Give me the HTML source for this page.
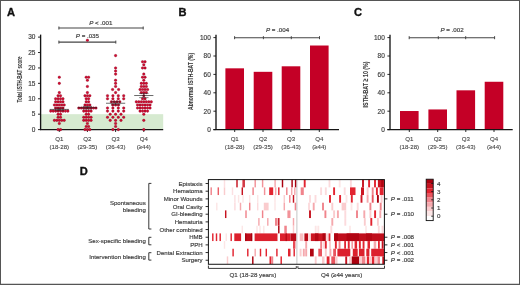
<!DOCTYPE html>
<html lang="en">
<head>
<meta charset="utf-8">
<title>ISTH-BAT scores by age quartile</title>
<style>
html,body{margin:0;padding:0;background:#fff;}
body{width:520px;height:285px;overflow:hidden;}
svg{display:block;will-change:transform;font-family:"Liberation Sans",sans-serif;}
text{stroke:#3c3c3c;stroke-width:0.16px;}
</style>
</head>
<body>
<svg width="520" height="285" viewBox="0 0 520 285">
<rect x="0" y="0" width="520" height="285" fill="#fff"/>
<text x="7.00" y="16.20" font-size="11.1" text-anchor="start" fill="#111" font-weight="bold" style="stroke:#111;stroke-width:0.35px">A</text>
<text x="178.60" y="16.20" font-size="11.1" text-anchor="start" fill="#111" font-weight="bold" style="stroke:#111;stroke-width:0.35px">B</text>
<text x="354.00" y="16.20" font-size="11.1" text-anchor="start" fill="#111" font-weight="bold" style="stroke:#111;stroke-width:0.35px">C</text>
<text x="79.70" y="175.20" font-size="11.1" text-anchor="start" fill="#111" font-weight="bold" style="stroke:#111;stroke-width:0.35px">D</text>
<rect x="40.60" y="114.18" width="122.60" height="15.42" fill="#d6ead0"/>
<line x1="40.60" y1="34.60" x2="40.60" y2="130.10" stroke="#151515" stroke-width="1.35"/>
<line x1="40.10" y1="129.60" x2="163.20" y2="129.60" stroke="#151515" stroke-width="1.25"/>
<line x1="38.00" y1="129.60" x2="40.60" y2="129.60" stroke="#151515" stroke-width="0.9"/>
<text x="35.40" y="131.90" font-size="6.5" text-anchor="end" fill="#3c3c3c">0</text>
<line x1="38.00" y1="114.18" x2="40.60" y2="114.18" stroke="#151515" stroke-width="0.9"/>
<text x="35.40" y="116.48" font-size="6.5" text-anchor="end" fill="#3c3c3c">5</text>
<line x1="38.00" y1="98.77" x2="40.60" y2="98.77" stroke="#151515" stroke-width="0.9"/>
<text x="35.40" y="101.07" font-size="6.5" text-anchor="end" fill="#3c3c3c">10</text>
<line x1="38.00" y1="83.35" x2="40.60" y2="83.35" stroke="#151515" stroke-width="0.9"/>
<text x="35.40" y="85.65" font-size="6.5" text-anchor="end" fill="#3c3c3c">15</text>
<line x1="38.00" y1="67.94" x2="40.60" y2="67.94" stroke="#151515" stroke-width="0.9"/>
<text x="35.40" y="70.24" font-size="6.5" text-anchor="end" fill="#3c3c3c">20</text>
<line x1="38.00" y1="52.52" x2="40.60" y2="52.52" stroke="#151515" stroke-width="0.9"/>
<text x="35.40" y="54.82" font-size="6.5" text-anchor="end" fill="#3c3c3c">25</text>
<line x1="38.00" y1="37.11" x2="40.60" y2="37.11" stroke="#151515" stroke-width="0.9"/>
<text x="35.40" y="39.41" font-size="6.5" text-anchor="end" fill="#3c3c3c">30</text>
<text transform="translate(22.0,79.4) rotate(-90)" font-size="8" font-weight="bold" text-anchor="middle" fill="#3c3c3c" style="stroke-width:0.1px" textLength="46" lengthAdjust="spacingAndGlyphs">Total ISTH-BAT score</text>
<line x1="59.30" y1="129.60" x2="59.30" y2="132.00" stroke="#151515" stroke-width="0.9"/>
<line x1="87.40" y1="129.60" x2="87.40" y2="132.00" stroke="#151515" stroke-width="0.9"/>
<line x1="115.60" y1="129.60" x2="115.60" y2="132.00" stroke="#151515" stroke-width="0.9"/>
<line x1="143.80" y1="129.60" x2="143.80" y2="132.00" stroke="#151515" stroke-width="0.9"/>
<g fill="#d00c30" stroke="#80001c" stroke-width="0.32">
<circle cx="58.07" cy="129.60" r="1.28"/>
<circle cx="60.52" cy="129.60" r="1.28"/>
<circle cx="59.30" cy="123.43" r="1.28"/>
<circle cx="54.40" cy="120.35" r="1.28"/>
<circle cx="56.85" cy="120.35" r="1.28"/>
<circle cx="59.30" cy="120.35" r="1.28"/>
<circle cx="61.75" cy="120.35" r="1.28"/>
<circle cx="64.20" cy="120.35" r="1.28"/>
<circle cx="58.07" cy="117.27" r="1.28"/>
<circle cx="60.52" cy="117.27" r="1.28"/>
<circle cx="58.07" cy="114.18" r="1.28"/>
<circle cx="60.52" cy="114.18" r="1.28"/>
<circle cx="50.72" cy="111.10" r="1.28"/>
<circle cx="53.17" cy="111.10" r="1.28"/>
<circle cx="55.62" cy="111.10" r="1.28"/>
<circle cx="58.07" cy="111.10" r="1.28"/>
<circle cx="60.52" cy="111.10" r="1.28"/>
<circle cx="62.97" cy="111.10" r="1.28"/>
<circle cx="65.42" cy="111.10" r="1.28"/>
<circle cx="67.88" cy="111.10" r="1.28"/>
<circle cx="55.62" cy="108.02" r="1.28"/>
<circle cx="58.07" cy="108.02" r="1.28"/>
<circle cx="60.52" cy="108.02" r="1.28"/>
<circle cx="62.97" cy="108.02" r="1.28"/>
<circle cx="54.40" cy="104.94" r="1.28"/>
<circle cx="56.85" cy="104.94" r="1.28"/>
<circle cx="59.30" cy="104.94" r="1.28"/>
<circle cx="61.75" cy="104.94" r="1.28"/>
<circle cx="64.20" cy="104.94" r="1.28"/>
<circle cx="55.62" cy="101.85" r="1.28"/>
<circle cx="58.07" cy="101.85" r="1.28"/>
<circle cx="60.52" cy="101.85" r="1.28"/>
<circle cx="62.97" cy="101.85" r="1.28"/>
<circle cx="55.62" cy="98.77" r="1.28"/>
<circle cx="58.07" cy="98.77" r="1.28"/>
<circle cx="60.52" cy="98.77" r="1.28"/>
<circle cx="62.97" cy="98.77" r="1.28"/>
<circle cx="58.07" cy="95.69" r="1.28"/>
<circle cx="60.52" cy="95.69" r="1.28"/>
<circle cx="59.30" cy="92.60" r="1.28"/>
<circle cx="59.30" cy="83.35" r="1.28"/>
<circle cx="59.30" cy="77.19" r="1.28"/>
<circle cx="84.95" cy="129.60" r="1.28"/>
<circle cx="87.40" cy="129.60" r="1.28"/>
<circle cx="89.85" cy="129.60" r="1.28"/>
<circle cx="86.18" cy="126.52" r="1.28"/>
<circle cx="88.62" cy="126.52" r="1.28"/>
<circle cx="87.40" cy="123.43" r="1.28"/>
<circle cx="83.73" cy="120.35" r="1.28"/>
<circle cx="86.18" cy="120.35" r="1.28"/>
<circle cx="88.62" cy="120.35" r="1.28"/>
<circle cx="91.08" cy="120.35" r="1.28"/>
<circle cx="83.73" cy="117.27" r="1.28"/>
<circle cx="86.18" cy="117.27" r="1.28"/>
<circle cx="88.62" cy="117.27" r="1.28"/>
<circle cx="91.08" cy="117.27" r="1.28"/>
<circle cx="86.18" cy="114.18" r="1.28"/>
<circle cx="88.62" cy="114.18" r="1.28"/>
<circle cx="83.73" cy="111.10" r="1.28"/>
<circle cx="86.18" cy="111.10" r="1.28"/>
<circle cx="88.62" cy="111.10" r="1.28"/>
<circle cx="91.08" cy="111.10" r="1.28"/>
<circle cx="78.83" cy="108.02" r="1.28"/>
<circle cx="81.28" cy="108.02" r="1.28"/>
<circle cx="83.73" cy="108.02" r="1.28"/>
<circle cx="86.18" cy="108.02" r="1.28"/>
<circle cx="88.62" cy="108.02" r="1.28"/>
<circle cx="91.08" cy="108.02" r="1.28"/>
<circle cx="93.53" cy="108.02" r="1.28"/>
<circle cx="95.98" cy="108.02" r="1.28"/>
<circle cx="84.95" cy="104.94" r="1.28"/>
<circle cx="87.40" cy="104.94" r="1.28"/>
<circle cx="89.85" cy="104.94" r="1.28"/>
<circle cx="86.18" cy="101.85" r="1.28"/>
<circle cx="88.62" cy="101.85" r="1.28"/>
<circle cx="86.18" cy="98.77" r="1.28"/>
<circle cx="88.62" cy="98.77" r="1.28"/>
<circle cx="84.95" cy="95.69" r="1.28"/>
<circle cx="87.40" cy="95.69" r="1.28"/>
<circle cx="89.85" cy="95.69" r="1.28"/>
<circle cx="87.40" cy="92.60" r="1.28"/>
<circle cx="87.40" cy="86.44" r="1.28"/>
<circle cx="87.40" cy="80.27" r="1.28"/>
<circle cx="86.18" cy="77.19" r="1.28"/>
<circle cx="88.62" cy="77.19" r="1.28"/>
<circle cx="112.90" cy="129.60" r="1.28"/>
<circle cx="118.30" cy="129.60" r="1.28"/>
<circle cx="115.60" cy="126.52" r="1.28"/>
<circle cx="115.60" cy="123.43" r="1.28"/>
<circle cx="110.20" cy="120.35" r="1.28"/>
<circle cx="115.60" cy="120.35" r="1.28"/>
<circle cx="121.00" cy="120.35" r="1.28"/>
<circle cx="107.50" cy="117.27" r="1.28"/>
<circle cx="112.90" cy="117.27" r="1.28"/>
<circle cx="118.30" cy="117.27" r="1.28"/>
<circle cx="123.70" cy="117.27" r="1.28"/>
<circle cx="110.20" cy="114.18" r="1.28"/>
<circle cx="115.60" cy="114.18" r="1.28"/>
<circle cx="121.00" cy="114.18" r="1.28"/>
<circle cx="107.50" cy="111.10" r="1.28"/>
<circle cx="112.90" cy="111.10" r="1.28"/>
<circle cx="118.30" cy="111.10" r="1.28"/>
<circle cx="123.70" cy="111.10" r="1.28"/>
<circle cx="107.50" cy="108.02" r="1.28"/>
<circle cx="112.90" cy="108.02" r="1.28"/>
<circle cx="118.30" cy="108.02" r="1.28"/>
<circle cx="123.70" cy="108.02" r="1.28"/>
<circle cx="112.80" cy="104.94" r="1.28"/>
<circle cx="115.60" cy="104.94" r="1.28"/>
<circle cx="118.40" cy="104.94" r="1.28"/>
<circle cx="111.40" cy="101.85" r="1.28"/>
<circle cx="114.20" cy="101.85" r="1.28"/>
<circle cx="117.00" cy="101.85" r="1.28"/>
<circle cx="119.80" cy="101.85" r="1.28"/>
<circle cx="107.50" cy="98.77" r="1.28"/>
<circle cx="112.90" cy="98.77" r="1.28"/>
<circle cx="118.30" cy="98.77" r="1.28"/>
<circle cx="123.70" cy="98.77" r="1.28"/>
<circle cx="107.50" cy="95.69" r="1.28"/>
<circle cx="112.90" cy="95.69" r="1.28"/>
<circle cx="118.30" cy="95.69" r="1.28"/>
<circle cx="123.70" cy="95.69" r="1.28"/>
<circle cx="115.60" cy="92.60" r="1.28"/>
<circle cx="112.60" cy="89.52" r="1.28"/>
<circle cx="118.60" cy="89.52" r="1.28"/>
<circle cx="115.60" cy="86.44" r="1.28"/>
<circle cx="115.60" cy="83.35" r="1.28"/>
<circle cx="115.60" cy="80.27" r="1.28"/>
<circle cx="115.60" cy="74.11" r="1.28"/>
<circle cx="115.60" cy="71.02" r="1.28"/>
<circle cx="115.60" cy="67.94" r="1.28"/>
<circle cx="115.60" cy="55.61" r="1.28"/>
<circle cx="143.80" cy="129.60" r="1.28"/>
<circle cx="143.80" cy="120.35" r="1.28"/>
<circle cx="143.80" cy="114.18" r="1.28"/>
<circle cx="140.05" cy="111.10" r="1.28"/>
<circle cx="142.55" cy="111.10" r="1.28"/>
<circle cx="145.05" cy="111.10" r="1.28"/>
<circle cx="147.55" cy="111.10" r="1.28"/>
<circle cx="137.55" cy="108.02" r="1.28"/>
<circle cx="140.05" cy="108.02" r="1.28"/>
<circle cx="142.55" cy="108.02" r="1.28"/>
<circle cx="145.05" cy="108.02" r="1.28"/>
<circle cx="147.55" cy="108.02" r="1.28"/>
<circle cx="150.05" cy="108.02" r="1.28"/>
<circle cx="137.55" cy="104.94" r="1.28"/>
<circle cx="140.05" cy="104.94" r="1.28"/>
<circle cx="142.55" cy="104.94" r="1.28"/>
<circle cx="145.05" cy="104.94" r="1.28"/>
<circle cx="147.55" cy="104.94" r="1.28"/>
<circle cx="150.05" cy="104.94" r="1.28"/>
<circle cx="136.30" cy="101.85" r="1.28"/>
<circle cx="138.80" cy="101.85" r="1.28"/>
<circle cx="141.30" cy="101.85" r="1.28"/>
<circle cx="143.80" cy="101.85" r="1.28"/>
<circle cx="146.30" cy="101.85" r="1.28"/>
<circle cx="148.80" cy="101.85" r="1.28"/>
<circle cx="151.30" cy="101.85" r="1.28"/>
<circle cx="142.55" cy="98.77" r="1.28"/>
<circle cx="145.05" cy="98.77" r="1.28"/>
<circle cx="143.80" cy="95.69" r="1.28"/>
<circle cx="141.30" cy="92.60" r="1.28"/>
<circle cx="143.80" cy="92.60" r="1.28"/>
<circle cx="146.30" cy="92.60" r="1.28"/>
<circle cx="140.05" cy="89.52" r="1.28"/>
<circle cx="142.55" cy="89.52" r="1.28"/>
<circle cx="145.05" cy="89.52" r="1.28"/>
<circle cx="147.55" cy="89.52" r="1.28"/>
<circle cx="141.30" cy="86.44" r="1.28"/>
<circle cx="143.80" cy="86.44" r="1.28"/>
<circle cx="146.30" cy="86.44" r="1.28"/>
<circle cx="141.30" cy="83.35" r="1.28"/>
<circle cx="143.80" cy="83.35" r="1.28"/>
<circle cx="146.30" cy="83.35" r="1.28"/>
<circle cx="143.80" cy="80.27" r="1.28"/>
<circle cx="142.55" cy="77.19" r="1.28"/>
<circle cx="145.05" cy="77.19" r="1.28"/>
<circle cx="143.80" cy="74.11" r="1.28"/>
<circle cx="142.55" cy="67.94" r="1.28"/>
<circle cx="145.05" cy="67.94" r="1.28"/>
<circle cx="143.80" cy="64.86" r="1.28"/>
<circle cx="142.55" cy="61.77" r="1.28"/>
<circle cx="145.05" cy="61.77" r="1.28"/>
</g>
<line x1="49.70" y1="109.41" x2="68.90" y2="109.41" stroke="#1a1a1a" stroke-width="0.65"/>
<line x1="59.30" y1="108.11" x2="59.30" y2="110.71" stroke="#1a1a1a" stroke-width="0.5"/>
<line x1="54.60" y1="108.11" x2="64.00" y2="108.11" stroke="#1a1a1a" stroke-width="0.5"/>
<line x1="54.60" y1="110.71" x2="64.00" y2="110.71" stroke="#1a1a1a" stroke-width="0.5"/>
<line x1="77.80" y1="107.71" x2="97.00" y2="107.71" stroke="#1a1a1a" stroke-width="0.65"/>
<line x1="87.40" y1="106.41" x2="87.40" y2="109.01" stroke="#1a1a1a" stroke-width="0.5"/>
<line x1="82.70" y1="106.41" x2="92.10" y2="106.41" stroke="#1a1a1a" stroke-width="0.5"/>
<line x1="82.70" y1="109.01" x2="92.10" y2="109.01" stroke="#1a1a1a" stroke-width="0.5"/>
<line x1="106.00" y1="103.24" x2="125.20" y2="103.24" stroke="#1a1a1a" stroke-width="0.65"/>
<line x1="115.60" y1="101.69" x2="115.60" y2="104.79" stroke="#1a1a1a" stroke-width="0.5"/>
<line x1="110.90" y1="101.69" x2="120.30" y2="101.69" stroke="#1a1a1a" stroke-width="0.5"/>
<line x1="110.90" y1="104.79" x2="120.30" y2="104.79" stroke="#1a1a1a" stroke-width="0.5"/>
<line x1="134.20" y1="95.53" x2="153.40" y2="95.53" stroke="#1a1a1a" stroke-width="0.65"/>
<line x1="143.80" y1="93.43" x2="143.80" y2="97.63" stroke="#1a1a1a" stroke-width="0.5"/>
<line x1="139.10" y1="93.43" x2="148.50" y2="93.43" stroke="#1a1a1a" stroke-width="0.5"/>
<line x1="139.10" y1="97.63" x2="148.50" y2="97.63" stroke="#1a1a1a" stroke-width="0.5"/>
<text x="59.30" y="141.20" font-size="6.1" text-anchor="middle" fill="#444" style="stroke:#444;stroke-width:0.1px">Q1</text>
<text x="59.30" y="148.80" font-size="6.1" text-anchor="middle" fill="#444" style="stroke:#444;stroke-width:0.1px">(18-28)</text>
<text x="87.40" y="141.20" font-size="6.1" text-anchor="middle" fill="#444" style="stroke:#444;stroke-width:0.1px">Q2</text>
<text x="87.40" y="148.80" font-size="6.1" text-anchor="middle" fill="#444" style="stroke:#444;stroke-width:0.1px">(29-35)</text>
<text x="115.60" y="141.20" font-size="6.1" text-anchor="middle" fill="#444" style="stroke:#444;stroke-width:0.1px">Q3</text>
<text x="115.60" y="148.80" font-size="6.1" text-anchor="middle" fill="#444" style="stroke:#444;stroke-width:0.1px">(36-43)</text>
<text x="143.80" y="141.20" font-size="6.1" text-anchor="middle" fill="#444" style="stroke:#444;stroke-width:0.1px">Q4</text>
<text x="143.80" y="148.80" font-size="6.1" text-anchor="middle" fill="#444" style="stroke:#444;stroke-width:0.1px">(≥44)</text>
<line x1="58.90" y1="28.00" x2="143.20" y2="28.00" stroke="#444" stroke-width="1.1"/>
<line x1="58.90" y1="26.50" x2="58.90" y2="29.50" stroke="#444" stroke-width="1.0"/>
<line x1="143.20" y1="26.50" x2="143.20" y2="29.50" stroke="#444" stroke-width="1.0"/>
<text x="100.80" y="25.00" font-size="6.2" text-anchor="middle" fill="#444" style="stroke:#444;stroke-width:0.2px"><tspan font-style="italic">P</tspan> &lt; .001</text>
<line x1="58.90" y1="42.10" x2="115.80" y2="42.10" stroke="#444" stroke-width="1.1"/>
<line x1="58.90" y1="40.60" x2="58.90" y2="43.60" stroke="#444" stroke-width="1.0"/>
<line x1="115.80" y1="40.60" x2="115.80" y2="43.60" stroke="#444" stroke-width="1.0"/>
<text x="87.40" y="37.70" font-size="6.2" text-anchor="middle" fill="#444" style="stroke:#444;stroke-width:0.2px"><tspan font-style="italic">P</tspan> = .035</text>
<circle cx="87.4" cy="40.19" r="1.28" fill="#d00c30" stroke="#80001c" stroke-width="0.32"/>
<rect x="225.40" y="68.33" width="18.60" height="61.27" fill="#c40026"/>
<rect x="253.70" y="71.82" width="18.60" height="57.78" fill="#c40026"/>
<rect x="281.70" y="66.30" width="18.60" height="63.30" fill="#c40026"/>
<rect x="310.00" y="45.51" width="18.60" height="84.09" fill="#c40026"/>
<line x1="216.00" y1="34.80" x2="216.00" y2="130.10" stroke="#151515" stroke-width="1.35"/>
<line x1="213.40" y1="129.60" x2="339.00" y2="129.60" stroke="#151515" stroke-width="1.25"/>
<line x1="234.70" y1="129.60" x2="234.70" y2="132.00" stroke="#151515" stroke-width="0.9"/>
<line x1="263.00" y1="129.60" x2="263.00" y2="132.00" stroke="#151515" stroke-width="0.9"/>
<line x1="291.00" y1="129.60" x2="291.00" y2="132.00" stroke="#151515" stroke-width="0.9"/>
<line x1="319.30" y1="129.60" x2="319.30" y2="132.00" stroke="#151515" stroke-width="0.9"/>
<line x1="213.40" y1="129.60" x2="216.00" y2="129.60" stroke="#151515" stroke-width="0.9"/>
<text x="210.80" y="131.90" font-size="6.5" text-anchor="end" fill="#3c3c3c">0</text>
<line x1="213.40" y1="111.20" x2="216.00" y2="111.20" stroke="#151515" stroke-width="0.9"/>
<text x="210.80" y="113.50" font-size="6.5" text-anchor="end" fill="#3c3c3c">20</text>
<line x1="213.40" y1="92.80" x2="216.00" y2="92.80" stroke="#151515" stroke-width="0.9"/>
<text x="210.80" y="95.10" font-size="6.5" text-anchor="end" fill="#3c3c3c">40</text>
<line x1="213.40" y1="74.40" x2="216.00" y2="74.40" stroke="#151515" stroke-width="0.9"/>
<text x="210.80" y="76.70" font-size="6.5" text-anchor="end" fill="#3c3c3c">60</text>
<line x1="213.40" y1="56.00" x2="216.00" y2="56.00" stroke="#151515" stroke-width="0.9"/>
<text x="210.80" y="58.30" font-size="6.5" text-anchor="end" fill="#3c3c3c">80</text>
<line x1="213.40" y1="37.60" x2="216.00" y2="37.60" stroke="#151515" stroke-width="0.9"/>
<text x="210.80" y="39.90" font-size="6.5" text-anchor="end" fill="#3c3c3c">100</text>
<text transform="translate(192.9,81.4) rotate(-90)" font-size="8" font-weight="bold" text-anchor="middle" fill="#3c3c3c" style="stroke-width:0.1px" textLength="57" lengthAdjust="spacingAndGlyphs">Abnormal ISTH-BAT (%)</text>
<line x1="234.60" y1="37.70" x2="319.50" y2="37.70" stroke="#444" stroke-width="1.1"/>
<line x1="234.60" y1="36.20" x2="234.60" y2="39.20" stroke="#444" stroke-width="1.0"/>
<line x1="263.40" y1="36.20" x2="263.40" y2="39.20" stroke="#444" stroke-width="1.0"/>
<line x1="291.30" y1="36.20" x2="291.30" y2="39.20" stroke="#444" stroke-width="1.0"/>
<line x1="319.50" y1="36.20" x2="319.50" y2="39.20" stroke="#444" stroke-width="1.0"/>
<text x="277.50" y="32.30" font-size="6.2" text-anchor="middle" fill="#444" style="stroke:#444;stroke-width:0.2px"><tspan font-style="italic">P</tspan> = .004</text>
<text x="234.70" y="141.20" font-size="6.1" text-anchor="middle" fill="#444" style="stroke:#444;stroke-width:0.1px">Q1</text>
<text x="234.70" y="148.80" font-size="6.1" text-anchor="middle" fill="#444" style="stroke:#444;stroke-width:0.1px">(18-28)</text>
<text x="263.00" y="141.20" font-size="6.1" text-anchor="middle" fill="#444" style="stroke:#444;stroke-width:0.1px">Q2</text>
<text x="263.00" y="148.80" font-size="6.1" text-anchor="middle" fill="#444" style="stroke:#444;stroke-width:0.1px">(29-35)</text>
<text x="291.00" y="141.20" font-size="6.1" text-anchor="middle" fill="#444" style="stroke:#444;stroke-width:0.1px">Q3</text>
<text x="291.00" y="148.80" font-size="6.1" text-anchor="middle" fill="#444" style="stroke:#444;stroke-width:0.1px">(36-43)</text>
<text x="319.30" y="141.20" font-size="6.1" text-anchor="middle" fill="#444" style="stroke:#444;stroke-width:0.1px">Q4</text>
<text x="319.30" y="148.80" font-size="6.1" text-anchor="middle" fill="#444" style="stroke:#444;stroke-width:0.1px">(≥44)</text>
<rect x="400.00" y="111.02" width="18.60" height="18.58" fill="#c40026"/>
<rect x="428.40" y="109.45" width="18.60" height="20.15" fill="#c40026"/>
<rect x="456.50" y="90.32" width="18.60" height="39.28" fill="#c40026"/>
<rect x="484.70" y="81.76" width="18.60" height="47.84" fill="#c40026"/>
<line x1="390.00" y1="34.80" x2="390.00" y2="130.10" stroke="#151515" stroke-width="1.35"/>
<line x1="387.40" y1="129.60" x2="512.70" y2="129.60" stroke="#151515" stroke-width="1.25"/>
<line x1="409.30" y1="129.60" x2="409.30" y2="132.00" stroke="#151515" stroke-width="0.9"/>
<line x1="437.70" y1="129.60" x2="437.70" y2="132.00" stroke="#151515" stroke-width="0.9"/>
<line x1="465.80" y1="129.60" x2="465.80" y2="132.00" stroke="#151515" stroke-width="0.9"/>
<line x1="494.00" y1="129.60" x2="494.00" y2="132.00" stroke="#151515" stroke-width="0.9"/>
<line x1="387.40" y1="129.60" x2="390.00" y2="129.60" stroke="#151515" stroke-width="0.9"/>
<text x="384.80" y="131.90" font-size="6.5" text-anchor="end" fill="#3c3c3c">0</text>
<line x1="387.40" y1="111.20" x2="390.00" y2="111.20" stroke="#151515" stroke-width="0.9"/>
<text x="384.80" y="113.50" font-size="6.5" text-anchor="end" fill="#3c3c3c">20</text>
<line x1="387.40" y1="92.80" x2="390.00" y2="92.80" stroke="#151515" stroke-width="0.9"/>
<text x="384.80" y="95.10" font-size="6.5" text-anchor="end" fill="#3c3c3c">40</text>
<line x1="387.40" y1="74.40" x2="390.00" y2="74.40" stroke="#151515" stroke-width="0.9"/>
<text x="384.80" y="76.70" font-size="6.5" text-anchor="end" fill="#3c3c3c">60</text>
<line x1="387.40" y1="56.00" x2="390.00" y2="56.00" stroke="#151515" stroke-width="0.9"/>
<text x="384.80" y="58.30" font-size="6.5" text-anchor="end" fill="#3c3c3c">80</text>
<line x1="387.40" y1="37.60" x2="390.00" y2="37.60" stroke="#151515" stroke-width="0.9"/>
<text x="384.80" y="39.90" font-size="6.5" text-anchor="end" fill="#3c3c3c">100</text>
<text transform="translate(367.5,84.4) rotate(-90)" font-size="8" font-weight="bold" text-anchor="middle" fill="#3c3c3c" style="stroke-width:0.1px" textLength="46" lengthAdjust="spacingAndGlyphs">ISTH-BAT ≥ 10 (%)</text>
<line x1="409.20" y1="37.70" x2="494.60" y2="37.70" stroke="#444" stroke-width="1.1"/>
<line x1="409.20" y1="36.20" x2="409.20" y2="39.20" stroke="#444" stroke-width="1.0"/>
<line x1="438.30" y1="36.20" x2="438.30" y2="39.20" stroke="#444" stroke-width="1.0"/>
<line x1="465.70" y1="36.20" x2="465.70" y2="39.20" stroke="#444" stroke-width="1.0"/>
<line x1="494.60" y1="36.20" x2="494.60" y2="39.20" stroke="#444" stroke-width="1.0"/>
<text x="452.00" y="32.30" font-size="6.2" text-anchor="middle" fill="#444" style="stroke:#444;stroke-width:0.2px"><tspan font-style="italic">P</tspan> = .002</text>
<text x="409.30" y="141.20" font-size="6.1" text-anchor="middle" fill="#444" style="stroke:#444;stroke-width:0.1px">Q1</text>
<text x="409.30" y="148.80" font-size="6.1" text-anchor="middle" fill="#444" style="stroke:#444;stroke-width:0.1px">(18-28)</text>
<text x="437.70" y="141.20" font-size="6.1" text-anchor="middle" fill="#444" style="stroke:#444;stroke-width:0.1px">Q2</text>
<text x="437.70" y="148.80" font-size="6.1" text-anchor="middle" fill="#444" style="stroke:#444;stroke-width:0.1px">(29-35)</text>
<text x="465.80" y="141.20" font-size="6.1" text-anchor="middle" fill="#444" style="stroke:#444;stroke-width:0.1px">Q3</text>
<text x="465.80" y="148.80" font-size="6.1" text-anchor="middle" fill="#444" style="stroke:#444;stroke-width:0.1px">(36-43)</text>
<text x="494.00" y="141.20" font-size="6.1" text-anchor="middle" fill="#444" style="stroke:#444;stroke-width:0.1px">Q4</text>
<text x="494.00" y="148.80" font-size="6.1" text-anchor="middle" fill="#444" style="stroke:#444;stroke-width:0.1px">(≥44)</text>
<rect x="223.78" y="179.70" width="1.44" height="7.67" fill="#fce0e2"/>
<rect x="236.28" y="179.70" width="1.44" height="7.67" fill="#c6121f"/>
<rect x="242.00" y="179.70" width="1.20" height="7.67" fill="#f0848c"/>
<rect x="243.20" y="179.70" width="1.60" height="7.67" fill="#c6121f"/>
<rect x="254.48" y="179.70" width="1.44" height="7.67" fill="#f29299"/>
<rect x="261.88" y="179.70" width="1.44" height="7.67" fill="#f29299"/>
<rect x="274.38" y="179.70" width="1.44" height="7.67" fill="#f5a8ad"/>
<rect x="281.78" y="179.70" width="1.44" height="7.67" fill="#aa000e"/>
<rect x="291.38" y="179.70" width="1.44" height="7.67" fill="#aa000e"/>
<rect x="294.88" y="179.70" width="1.44" height="7.67" fill="#aa000e"/>
<rect x="303.75" y="179.70" width="1.90" height="7.67" fill="#e22430"/>
<rect x="328.55" y="179.70" width="1.90" height="7.67" fill="#fcdbdd"/>
<rect x="338.75" y="179.70" width="1.90" height="7.67" fill="#fce6e6"/>
<rect x="349.95" y="179.70" width="1.90" height="7.67" fill="#fcdbdd"/>
<rect x="362.05" y="179.70" width="1.90" height="7.67" fill="#c6121f"/>
<rect x="368.15" y="179.70" width="1.90" height="7.67" fill="#e22430"/>
<rect x="374.05" y="179.70" width="1.90" height="7.67" fill="#e22430"/>
<rect x="377.90" y="179.70" width="6.30" height="7.67" fill="#cc1622"/>
<rect x="381.20" y="179.70" width="1.80" height="7.67" fill="#b00411"/>
<rect x="210.48" y="187.37" width="1.44" height="7.67" fill="#f0848c"/>
<rect x="217.58" y="187.37" width="1.44" height="7.67" fill="#ea5e67"/>
<rect x="223.78" y="187.37" width="1.44" height="7.67" fill="#faccce"/>
<rect x="231.78" y="187.37" width="1.44" height="7.67" fill="#fce0e2"/>
<rect x="241.58" y="187.37" width="1.44" height="7.67" fill="#c6121f"/>
<rect x="252.38" y="187.37" width="1.44" height="7.67" fill="#f0848c"/>
<rect x="263.88" y="187.37" width="1.44" height="7.67" fill="#f29299"/>
<rect x="269.20" y="187.37" width="4.00" height="7.67" fill="#e22430"/>
<rect x="274.98" y="187.37" width="1.44" height="7.67" fill="#f5a8ad"/>
<rect x="278.08" y="187.37" width="1.44" height="7.67" fill="#e22430"/>
<rect x="286.08" y="187.37" width="1.44" height="7.67" fill="#f0848c"/>
<rect x="290.98" y="187.37" width="1.44" height="7.67" fill="#f5a8ad"/>
<rect x="294.08" y="187.37" width="1.44" height="7.67" fill="#f5a8ad"/>
<rect x="300.70" y="187.37" width="3.10" height="7.67" fill="#f0848c"/>
<rect x="320.15" y="187.37" width="1.90" height="7.67" fill="#fcdbdd"/>
<rect x="324.85" y="187.37" width="1.90" height="7.67" fill="#fcdbdd"/>
<rect x="333.15" y="187.37" width="1.90" height="7.67" fill="#e22430"/>
<rect x="343.75" y="187.37" width="1.90" height="7.67" fill="#fcdbdd"/>
<rect x="350.00" y="187.37" width="5.50" height="7.67" fill="#e22430"/>
<rect x="361.00" y="187.37" width="3.00" height="7.67" fill="#cc1622"/>
<rect x="366.65" y="187.37" width="1.90" height="7.67" fill="#faccce"/>
<rect x="371.75" y="187.37" width="1.90" height="7.67" fill="#f0848c"/>
<rect x="375.95" y="187.37" width="1.90" height="7.67" fill="#e22430"/>
<rect x="379.70" y="187.37" width="3.90" height="7.67" fill="#e22430"/>
<rect x="234.18" y="195.04" width="1.44" height="7.67" fill="#fce0e2"/>
<rect x="237.88" y="195.04" width="1.44" height="7.67" fill="#fce6e6"/>
<rect x="242.28" y="195.04" width="1.44" height="7.67" fill="#fce6e6"/>
<rect x="248.98" y="195.04" width="1.44" height="7.67" fill="#fce6e6"/>
<rect x="256.98" y="195.04" width="1.44" height="7.67" fill="#fce6e6"/>
<rect x="274.28" y="195.04" width="1.44" height="7.67" fill="#fce6e6"/>
<rect x="283.58" y="195.04" width="1.44" height="7.67" fill="#faccce"/>
<rect x="289.08" y="195.04" width="1.44" height="7.67" fill="#f0848c"/>
<rect x="292.78" y="195.04" width="1.44" height="7.67" fill="#c6121f"/>
<rect x="309.05" y="195.04" width="1.90" height="7.67" fill="#fcdbdd"/>
<rect x="314.55" y="195.04" width="1.90" height="7.67" fill="#fcdbdd"/>
<rect x="329.05" y="195.04" width="1.90" height="7.67" fill="#e22430"/>
<rect x="339.15" y="195.04" width="1.90" height="7.67" fill="#e22430"/>
<rect x="345.55" y="195.04" width="1.90" height="7.67" fill="#fce6e6"/>
<rect x="350.85" y="195.04" width="1.90" height="7.67" fill="#e22430"/>
<rect x="360.55" y="195.04" width="1.90" height="7.67" fill="#d11926"/>
<rect x="366.65" y="195.04" width="1.90" height="7.67" fill="#f5a8ad"/>
<rect x="371.75" y="195.04" width="1.90" height="7.67" fill="#e9545e"/>
<rect x="376.95" y="195.04" width="1.90" height="7.67" fill="#aa000e"/>
<rect x="380.65" y="195.04" width="1.90" height="7.67" fill="#faccce"/>
<rect x="216.08" y="202.71" width="1.44" height="7.67" fill="#fce6e6"/>
<rect x="234.18" y="202.71" width="1.44" height="7.67" fill="#fcdbdd"/>
<rect x="239.78" y="202.71" width="1.44" height="7.67" fill="#f5a8ad"/>
<rect x="248.98" y="202.71" width="1.44" height="7.67" fill="#f0848c"/>
<rect x="256.98" y="202.71" width="1.44" height="7.67" fill="#fcdbdd"/>
<rect x="263.80" y="202.71" width="4.80" height="7.67" fill="#faccce"/>
<rect x="274.28" y="202.71" width="1.44" height="7.67" fill="#fce6e6"/>
<rect x="283.58" y="202.71" width="1.44" height="7.67" fill="#f5a8ad"/>
<rect x="294.68" y="202.71" width="1.44" height="7.67" fill="#f0848c"/>
<rect x="308.05" y="202.71" width="1.90" height="7.67" fill="#fcdbdd"/>
<rect x="312.75" y="202.71" width="1.90" height="7.67" fill="#f5a8ad"/>
<rect x="322.05" y="202.71" width="1.90" height="7.67" fill="#f0848c"/>
<rect x="331.35" y="202.71" width="1.90" height="7.67" fill="#faccce"/>
<rect x="341.60" y="202.71" width="4.60" height="7.67" fill="#faccce"/>
<rect x="350.55" y="202.71" width="1.90" height="7.67" fill="#fce6e6"/>
<rect x="356.75" y="202.71" width="1.90" height="7.67" fill="#fcdbdd"/>
<rect x="369.45" y="202.71" width="1.90" height="7.67" fill="#f0848c"/>
<rect x="379.75" y="202.71" width="1.90" height="7.67" fill="#f0848c"/>
<rect x="224.98" y="210.38" width="1.44" height="7.67" fill="#c6121f"/>
<rect x="245.28" y="210.38" width="1.44" height="7.67" fill="#f0848c"/>
<rect x="261.88" y="210.38" width="1.44" height="7.67" fill="#f0848c"/>
<rect x="287.40" y="210.38" width="3.10" height="7.67" fill="#f29299"/>
<rect x="309.05" y="210.38" width="1.90" height="7.67" fill="#c6121f"/>
<rect x="324.45" y="210.38" width="1.90" height="7.67" fill="#f0848c"/>
<rect x="333.15" y="210.38" width="1.90" height="7.67" fill="#faccce"/>
<rect x="336.95" y="210.38" width="1.90" height="7.67" fill="#f5a8ad"/>
<rect x="344.35" y="210.38" width="1.90" height="7.67" fill="#fcdbdd"/>
<rect x="356.05" y="210.38" width="1.90" height="7.67" fill="#f0848c"/>
<rect x="363.35" y="210.38" width="1.90" height="7.67" fill="#f5a8ad"/>
<rect x="369.45" y="210.38" width="1.90" height="7.67" fill="#faccce"/>
<rect x="374.15" y="210.38" width="1.90" height="7.67" fill="#e22430"/>
<rect x="379.35" y="210.38" width="1.90" height="7.67" fill="#f5a8ad"/>
<rect x="258.18" y="218.05" width="1.44" height="7.67" fill="#f5a8ad"/>
<rect x="267.08" y="218.05" width="1.44" height="7.67" fill="#f5a8ad"/>
<rect x="275.00" y="218.05" width="2.60" height="7.67" fill="#f0848c"/>
<rect x="278.08" y="218.05" width="1.44" height="7.67" fill="#c00e1c"/>
<rect x="292.78" y="218.05" width="1.44" height="7.67" fill="#f5a8ad"/>
<rect x="331.35" y="218.05" width="1.90" height="7.67" fill="#f5a8ad"/>
<rect x="344.35" y="218.05" width="1.90" height="7.67" fill="#fcdbdd"/>
<rect x="363.85" y="218.05" width="1.90" height="7.67" fill="#faccce"/>
<rect x="370.35" y="218.05" width="1.90" height="7.67" fill="#e22430"/>
<rect x="376.95" y="218.05" width="1.90" height="7.67" fill="#faccce"/>
<rect x="241.58" y="225.72" width="1.44" height="7.67" fill="#fce6e6"/>
<rect x="256.28" y="225.72" width="1.44" height="7.67" fill="#fce6e6"/>
<rect x="259.28" y="225.72" width="1.44" height="7.67" fill="#fce6e6"/>
<rect x="263.08" y="225.72" width="1.44" height="7.67" fill="#fce6e6"/>
<rect x="278.08" y="225.72" width="1.44" height="7.67" fill="#aa000e"/>
<rect x="284.30" y="225.72" width="2.50" height="7.67" fill="#f0848c"/>
<rect x="292.78" y="225.72" width="1.44" height="7.67" fill="#faccce"/>
<rect x="314.75" y="225.72" width="1.90" height="7.67" fill="#fce6e6"/>
<rect x="317.35" y="225.72" width="1.90" height="7.67" fill="#fce6e6"/>
<rect x="330.35" y="225.72" width="1.90" height="7.67" fill="#fcdbdd"/>
<rect x="349.05" y="225.72" width="1.90" height="7.67" fill="#fdebeb"/>
<rect x="365.05" y="225.72" width="1.90" height="7.67" fill="#fdebeb"/>
<rect x="377.85" y="225.72" width="1.90" height="7.67" fill="#fcdbdd"/>
<rect x="381.55" y="225.72" width="1.90" height="7.67" fill="#fcdbdd"/>
<rect x="212.08" y="233.39" width="1.44" height="7.67" fill="#e22430"/>
<rect x="215.78" y="233.39" width="1.44" height="7.67" fill="#e22430"/>
<rect x="219.48" y="233.39" width="1.44" height="7.67" fill="#e22430"/>
<rect x="225.58" y="233.39" width="1.44" height="7.67" fill="#fce6e6"/>
<rect x="230.48" y="233.39" width="1.44" height="7.67" fill="#e22430"/>
<rect x="234.30" y="233.39" width="6.80" height="7.67" fill="#dc202d"/>
<rect x="245.10" y="233.39" width="7.10" height="7.67" fill="#c00e1c"/>
<rect x="245.10" y="233.39" width="1.20" height="7.67" fill="#aa000e"/>
<rect x="251.00" y="233.39" width="1.20" height="7.67" fill="#aa000e"/>
<rect x="254.60" y="233.39" width="22.90" height="7.67" fill="#dc202d"/>
<rect x="280.00" y="233.39" width="10.50" height="7.67" fill="#dc202d"/>
<rect x="285.50" y="233.39" width="1.50" height="7.67" fill="#bb0b18"/>
<rect x="290.50" y="233.39" width="5.70" height="7.67" fill="#bb0b18"/>
<rect x="299.70" y="233.39" width="3.70" height="7.67" fill="#f8bec1"/>
<rect x="304.40" y="233.39" width="3.70" height="7.67" fill="#bb0b18"/>
<rect x="308.10" y="233.39" width="2.80" height="7.67" fill="#fbd6d8"/>
<rect x="310.90" y="233.39" width="14.90" height="7.67" fill="#cc1622"/>
<rect x="315.00" y="233.39" width="3.50" height="7.67" fill="#b50715"/>
<rect x="322.50" y="233.39" width="3.30" height="7.67" fill="#b00411"/>
<rect x="325.80" y="233.39" width="2.80" height="7.67" fill="#fbd6d8"/>
<rect x="328.60" y="233.39" width="1.80" height="7.67" fill="#e22430"/>
<rect x="334.10" y="233.39" width="50.10" height="7.67" fill="#c00e1c"/>
<rect x="334.10" y="233.39" width="3.90" height="7.67" fill="#b00411"/>
<rect x="346.60" y="233.39" width="12.40" height="7.67" fill="#b20513"/>
<rect x="366.00" y="233.39" width="6.00" height="7.67" fill="#b50715"/>
<rect x="223.78" y="241.06" width="1.44" height="7.67" fill="#fce6e6"/>
<rect x="293.00" y="241.06" width="2.40" height="7.67" fill="#e84a55"/>
<rect x="305.25" y="241.06" width="1.90" height="7.67" fill="#f5a8ad"/>
<rect x="320.20" y="241.06" width="1.80" height="7.67" fill="#f0848c"/>
<rect x="322.55" y="241.06" width="1.90" height="7.67" fill="#fcdbdd"/>
<rect x="324.85" y="241.06" width="1.90" height="7.67" fill="#e22430"/>
<rect x="329.05" y="241.06" width="1.90" height="7.67" fill="#faccce"/>
<rect x="334.90" y="241.06" width="1.90" height="7.67" fill="#e22430"/>
<rect x="338.60" y="241.06" width="1.90" height="7.67" fill="#f0848c"/>
<rect x="344.20" y="241.06" width="1.80" height="7.67" fill="#e22430"/>
<rect x="347.80" y="241.06" width="1.90" height="7.67" fill="#e22430"/>
<rect x="351.50" y="241.06" width="1.30" height="7.67" fill="#f0848c"/>
<rect x="354.60" y="241.06" width="2.50" height="7.67" fill="#e22430"/>
<rect x="358.90" y="241.06" width="1.90" height="7.67" fill="#e22430"/>
<rect x="362.60" y="241.06" width="1.90" height="7.67" fill="#e22430"/>
<rect x="367.50" y="241.06" width="2.50" height="7.67" fill="#e22430"/>
<rect x="373.70" y="241.06" width="2.50" height="7.67" fill="#f5a8ad"/>
<rect x="378.00" y="241.06" width="1.80" height="7.67" fill="#e22430"/>
<rect x="381.70" y="241.06" width="1.90" height="7.67" fill="#c6121f"/>
<rect x="232.38" y="248.73" width="1.44" height="7.67" fill="#e22430"/>
<rect x="247.08" y="248.73" width="1.44" height="7.67" fill="#e22430"/>
<rect x="254.48" y="248.73" width="1.44" height="7.67" fill="#f5a8ad"/>
<rect x="259.78" y="248.73" width="1.44" height="7.67" fill="#e22430"/>
<rect x="265.58" y="248.73" width="1.44" height="7.67" fill="#e22430"/>
<rect x="276.18" y="248.73" width="1.44" height="7.67" fill="#e22430"/>
<rect x="288.00" y="248.73" width="2.50" height="7.67" fill="#e22430"/>
<rect x="293.48" y="248.73" width="1.44" height="7.67" fill="#e22430"/>
<rect x="299.65" y="248.73" width="1.90" height="7.67" fill="#faccce"/>
<rect x="302.85" y="248.73" width="1.90" height="7.67" fill="#f5a8ad"/>
<rect x="305.25" y="248.73" width="1.90" height="7.67" fill="#f5a8ad"/>
<rect x="310.00" y="248.73" width="3.70" height="7.67" fill="#b00411"/>
<rect x="318.30" y="248.73" width="3.70" height="7.67" fill="#e9545e"/>
<rect x="324.85" y="248.73" width="1.90" height="7.67" fill="#faccce"/>
<rect x="329.45" y="248.73" width="1.90" height="7.67" fill="#f5a8ad"/>
<rect x="333.20" y="248.73" width="2.80" height="7.67" fill="#e9545e"/>
<rect x="337.40" y="248.73" width="12.90" height="7.67" fill="#dc202d"/>
<rect x="352.80" y="248.73" width="4.90" height="7.67" fill="#dc202d"/>
<rect x="358.90" y="248.73" width="5.60" height="7.67" fill="#dc202d"/>
<rect x="366.30" y="248.73" width="3.10" height="7.67" fill="#dc202d"/>
<rect x="371.20" y="248.73" width="13.00" height="7.67" fill="#dc202d"/>
<rect x="226.78" y="256.40" width="1.44" height="7.67" fill="#faccce"/>
<rect x="252.08" y="256.40" width="1.44" height="7.67" fill="#aa000e"/>
<rect x="269.50" y="256.40" width="1.90" height="7.67" fill="#e22430"/>
<rect x="271.40" y="256.40" width="1.80" height="7.67" fill="#f0848c"/>
<rect x="280.48" y="256.40" width="1.44" height="7.67" fill="#e22430"/>
<rect x="314.75" y="256.40" width="1.90" height="7.67" fill="#faccce"/>
<rect x="322.00" y="256.40" width="2.50" height="7.67" fill="#faccce"/>
<rect x="326.70" y="256.40" width="2.80" height="7.67" fill="#e22430"/>
<rect x="331.30" y="256.40" width="3.80" height="7.67" fill="#e9545e"/>
<rect x="335.10" y="256.40" width="2.40" height="7.67" fill="#faccce"/>
<rect x="345.25" y="256.40" width="1.90" height="7.67" fill="#c6121f"/>
<rect x="349.10" y="256.40" width="2.70" height="7.67" fill="#faccce"/>
<rect x="351.80" y="256.40" width="7.50" height="7.67" fill="#aa000e"/>
<rect x="359.30" y="256.40" width="2.70" height="7.67" fill="#faccce"/>
<rect x="362.00" y="256.40" width="3.00" height="7.67" fill="#f0848c"/>
<rect x="365.00" y="256.40" width="2.00" height="7.67" fill="#fbd6d8"/>
<rect x="367.00" y="256.40" width="2.00" height="7.67" fill="#e22430"/>
<rect x="369.00" y="256.40" width="3.00" height="7.67" fill="#faccce"/>
<rect x="372.00" y="256.40" width="2.50" height="7.67" fill="#e22430"/>
<rect x="374.50" y="256.40" width="3.00" height="7.67" fill="#faccce"/>
<rect x="377.50" y="256.40" width="2.50" height="7.67" fill="#f0848c"/>
<rect x="382.30" y="256.40" width="1.90" height="7.67" fill="#c6121f"/>
<line x1="296.90" y1="179.70" x2="296.90" y2="264.07" stroke="#9a9a9a" stroke-width="0.6"/>
<rect x="208.4" y="179.60" width="175.99999999999997" height="84.67" fill="none" stroke="#111" stroke-width="1"/>
<line x1="205.60" y1="183.53" x2="208.40" y2="183.53" stroke="#151515" stroke-width="0.9"/>
<text x="202.60" y="185.69" font-size="6.05" text-anchor="end" fill="#3c3c3c">Epistaxis</text>
<line x1="205.60" y1="191.20" x2="208.40" y2="191.20" stroke="#151515" stroke-width="0.9"/>
<text x="202.60" y="193.35" font-size="6.05" text-anchor="end" fill="#3c3c3c">Hematoma</text>
<line x1="205.60" y1="198.88" x2="208.40" y2="198.88" stroke="#151515" stroke-width="0.9"/>
<text x="202.60" y="201.03" font-size="6.05" text-anchor="end" fill="#3c3c3c">Minor Wounds</text>
<line x1="205.60" y1="206.54" x2="208.40" y2="206.54" stroke="#151515" stroke-width="0.9"/>
<text x="202.60" y="208.69" font-size="6.05" text-anchor="end" fill="#3c3c3c">Oral Cavity</text>
<line x1="205.60" y1="214.21" x2="208.40" y2="214.21" stroke="#151515" stroke-width="0.9"/>
<text x="202.60" y="216.36" font-size="6.05" text-anchor="end" fill="#3c3c3c">GI-bleeding</text>
<line x1="205.60" y1="221.88" x2="208.40" y2="221.88" stroke="#151515" stroke-width="0.9"/>
<text x="202.60" y="224.03" font-size="6.05" text-anchor="end" fill="#3c3c3c">Hematuria</text>
<line x1="205.60" y1="229.55" x2="208.40" y2="229.55" stroke="#151515" stroke-width="0.9"/>
<text x="202.60" y="231.70" font-size="6.05" text-anchor="end" fill="#3c3c3c">Other combined</text>
<line x1="205.60" y1="237.22" x2="208.40" y2="237.22" stroke="#151515" stroke-width="0.9"/>
<text x="202.60" y="239.38" font-size="6.05" text-anchor="end" fill="#3c3c3c">HMB</text>
<line x1="205.60" y1="244.89" x2="208.40" y2="244.89" stroke="#151515" stroke-width="0.9"/>
<text x="202.60" y="247.04" font-size="6.05" text-anchor="end" fill="#3c3c3c">PPH</text>
<line x1="205.60" y1="252.56" x2="208.40" y2="252.56" stroke="#151515" stroke-width="0.9"/>
<text x="202.60" y="254.72" font-size="6.05" text-anchor="end" fill="#3c3c3c">Dental Extraction</text>
<line x1="205.60" y1="260.24" x2="208.40" y2="260.24" stroke="#151515" stroke-width="0.9"/>
<text x="202.60" y="262.38" font-size="6.05" text-anchor="end" fill="#3c3c3c">Surgery</text>
<line x1="384.40" y1="198.88" x2="387.40" y2="198.88" stroke="#151515" stroke-width="0.9"/>
<text x="390.80" y="201.03" font-size="6.2" text-anchor="start" fill="#444" style="stroke:#444;stroke-width:0.2px"><tspan font-style="italic">P</tspan> = .011</text>
<line x1="384.40" y1="214.21" x2="387.40" y2="214.21" stroke="#151515" stroke-width="0.9"/>
<text x="390.80" y="216.36" font-size="6.2" text-anchor="start" fill="#444" style="stroke:#444;stroke-width:0.2px"><tspan font-style="italic">P</tspan> = .010</text>
<line x1="384.40" y1="237.22" x2="387.40" y2="237.22" stroke="#151515" stroke-width="0.9"/>
<text x="390.80" y="239.38" font-size="6.2" text-anchor="start" fill="#444" style="stroke:#444;stroke-width:0.2px"><tspan font-style="italic">P</tspan> = .008</text>
<line x1="384.40" y1="244.89" x2="387.40" y2="244.89" stroke="#151515" stroke-width="0.9"/>
<text x="390.80" y="247.04" font-size="6.2" text-anchor="start" fill="#444" style="stroke:#444;stroke-width:0.2px"><tspan font-style="italic">P</tspan> &lt; .001</text>
<line x1="384.40" y1="252.56" x2="387.40" y2="252.56" stroke="#151515" stroke-width="0.9"/>
<text x="390.80" y="254.72" font-size="6.2" text-anchor="start" fill="#444" style="stroke:#444;stroke-width:0.2px"><tspan font-style="italic">P</tspan> &lt; .001</text>
<line x1="384.40" y1="260.24" x2="387.40" y2="260.24" stroke="#151515" stroke-width="0.9"/>
<text x="390.80" y="262.38" font-size="6.2" text-anchor="start" fill="#444" style="stroke:#444;stroke-width:0.2px"><tspan font-style="italic">P</tspan> = .002</text>
<path d="M151.40 183.40H148.80V229.00H151.40" fill="none" stroke="#222" stroke-width="0.9"/>
<path d="M151.40 237.30H148.80V244.80H151.40" fill="none" stroke="#222" stroke-width="0.9"/>
<path d="M151.40 252.70H148.80V260.10H151.40" fill="none" stroke="#222" stroke-width="0.9"/>
<text x="145.80" y="204.70" font-size="6.1" text-anchor="end" fill="#3c3c3c">Spontaneous</text>
<text x="145.80" y="212.30" font-size="6.1" text-anchor="end" fill="#3c3c3c">bleeding</text>
<text x="145.80" y="243.20" font-size="6.1" text-anchor="end" fill="#3c3c3c">Sex-specific bleeding</text>
<text x="145.80" y="258.70" font-size="6.1" text-anchor="end" fill="#3c3c3c">Intervention bleeding</text>
<path d="M208.4 265.6V268.4H296.3V266.1" fill="none" stroke="#222" stroke-width="0.9"/>
<path d="M297.9 266.1V268.4H384.5V265.6" fill="none" stroke="#222" stroke-width="0.9"/>
<text x="252.90" y="276.80" font-size="6.2" text-anchor="middle" fill="#3c3c3c">Q1 (18-28 years)</text>
<text x="341.60" y="276.80" font-size="6.2" text-anchor="middle" fill="#3c3c3c">Q4 (≥44 years)</text>
<rect x="426.20" y="179.20" width="7.00" height="4.65" fill="#aa000e"/>
<rect x="426.20" y="183.80" width="7.00" height="4.65" fill="#c6121f"/>
<rect x="426.20" y="188.40" width="7.00" height="4.65" fill="#e22430"/>
<rect x="426.20" y="193.00" width="7.00" height="4.65" fill="#e9545e"/>
<rect x="426.20" y="197.60" width="7.00" height="4.65" fill="#f0848c"/>
<rect x="426.20" y="202.20" width="7.00" height="4.65" fill="#f5a8ad"/>
<rect x="426.20" y="206.80" width="7.00" height="4.65" fill="#faccce"/>
<rect x="426.20" y="211.40" width="7.00" height="4.65" fill="#fce6e6"/>
<rect x="426.20" y="216.00" width="7.00" height="4.65" fill="#ffffff"/>
<rect x="426.2" y="179.2" width="7" height="41.40" fill="none" stroke="#111" stroke-width="0.9"/>
<line x1="431.20" y1="183.40" x2="433.20" y2="183.40" stroke="#111" stroke-width="0.8"/>
<text x="437.00" y="185.60" font-size="6.2" text-anchor="start" fill="#3c3c3c">4</text>
<line x1="431.20" y1="191.60" x2="433.20" y2="191.60" stroke="#111" stroke-width="0.8"/>
<text x="437.00" y="193.80" font-size="6.2" text-anchor="start" fill="#3c3c3c">3</text>
<line x1="431.20" y1="199.80" x2="433.20" y2="199.80" stroke="#111" stroke-width="0.8"/>
<text x="437.00" y="202.00" font-size="6.2" text-anchor="start" fill="#3c3c3c">2</text>
<line x1="431.20" y1="208.00" x2="433.20" y2="208.00" stroke="#111" stroke-width="0.8"/>
<text x="437.00" y="210.20" font-size="6.2" text-anchor="start" fill="#3c3c3c">1</text>
<line x1="431.20" y1="216.20" x2="433.20" y2="216.20" stroke="#111" stroke-width="0.8"/>
<text x="437.00" y="218.40" font-size="6.2" text-anchor="start" fill="#3c3c3c">0</text>
<path d="M0 0H520V285H0Z M1 1V283.7H519V1Z" fill="#555" fill-rule="evenodd"/>
</svg>
</body>
</html>
